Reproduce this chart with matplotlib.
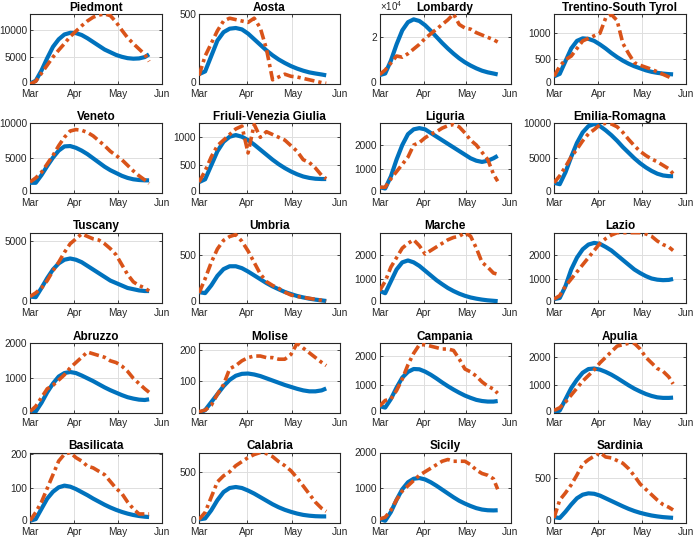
import numpy as np
import matplotlib
matplotlib.use("Agg")
import matplotlib.pyplot as plt
import matplotlib.transforms as mtransforms

plt.rcParams['font.family'] = ['Liberation Sans', 'DejaVu Sans']
plt.rcParams['mathtext.fontset'] = 'custom'
plt.rcParams['mathtext.rm'] = 'Liberation Sans'

# day offsets from 1 March
days = [0, 4, 8, 12, 16, 20, 24, 28, 32, 36, 40, 44, 48, 52, 56, 60, 64, 68, 72, 76, 80, 83]

month_ticks = [0, 31, 61, 92]
month_labels = ['Mar', 'Apr', 'May', 'Jun']

regions = ['Piedmont', 'Aosta', 'Lombardy', 'Trentino-South Tyrol',
           'Veneto', 'Friuli-Venezia Giulia', 'Liguria', 'Emilia-Romagna',
           'Tuscany', 'Umbria', 'Marche', 'Lazio',
           'Abruzzo', 'Molise', 'Campania', 'Apulia',
           'Basilicata', 'Calabria', 'Sicily', 'Sardinia']

piedmont_model = [100, 600, 2500, 4800, 6900, 8300, 9200, 9500, 9450, 9100, 8500, 7800, 7100, 6400, 5900, 5400, 5050, 4800, 4700, 4750, 5000, 5500]
piedmont_obs = [0, 500, 2000, 3500, 5000, 6300, 7500, 8800, 9800, 10800, 11700, 12400, 12800, 13000, 12700, 11500, 10000, 8600, 7500, 6500, 5500, 4200]
aosta_model = [70, 90, 200, 310, 370, 395, 400, 390, 360, 320, 280, 240, 205, 175, 150, 128, 110, 95, 83, 75, 68, 62]
aosta_obs = [60, 200, 290, 380, 450, 470, 460, 450, 440, 470, 400, 250, 30, 50, 70, 55, 50, 40, 30, 20, 10, 5]
lombardy_model = [3800, 4500, 10000, 17000, 23000, 26500, 27700, 27000, 25200, 22800, 20200, 17600, 15200, 13000, 11000, 9300, 7900, 6700, 5700, 5000, 4500, 4100]
lombardy_obs = [4000, 6000, 9000, 12000, 11500, 13000, 15000, 17000, 19500, 21500, 23500, 25500, 27500, 30000, 25500, 24000, 23500, 22000, 21000, 20000, 19000, 18000]
trentino_model = [150, 200, 450, 700, 850, 900, 890, 850, 780, 700, 610, 530, 460, 400, 350, 310, 270, 240, 220, 205, 195, 190]
trentino_obs = [150, 350, 480, 550, 700, 850, 900, 950, 1000, 1300, 1370, 1250, 800, 600, 420, 370, 330, 290, 240, 190, 140, 100]
veneto_model = [1500, 1500, 2600, 3900, 5100, 6100, 6700, 6750, 6500, 6100, 5600, 5000, 4400, 3800, 3300, 2900, 2500, 2200, 2000, 1900, 1850, 1850]
veneto_obs = [1600, 2200, 3000, 4200, 5400, 6800, 8000, 8900, 9100, 9000, 8700, 8200, 7500, 6800, 6000, 5400, 4800, 4000, 3200, 2500, 1900, 1400]
friuli_model = [200, 250, 500, 750, 920, 1010, 1040, 1010, 950, 870, 780, 690, 600, 520, 450, 390, 340, 300, 275, 260, 255, 255]
friuli_obs = [200, 400, 650, 850, 950, 1050, 1150, 1200, 720, 1230, 1000, 1100, 1050, 1000, 950, 850, 750, 600, 550, 450, 320, 260]
liguria_model = [250, 200, 700, 1400, 2000, 2450, 2650, 2700, 2650, 2500, 2350, 2200, 2050, 1900, 1750, 1600, 1450, 1350, 1300, 1350, 1450, 1550]
liguria_obs = [250, 250, 600, 900, 1200, 1500, 2000, 2100, 2300, 2450, 2550, 2700, 2800, 2850, 2750, 2500, 2200, 2000, 1700, 1400, 800, 500]
emilia_model = [1500, 1300, 3000, 5200, 7200, 8700, 9600, 9900, 9600, 9000, 8300, 7500, 6600, 5800, 5000, 4300, 3700, 3200, 2800, 2550, 2450, 2450]
emilia_obs = [1500, 2500, 3800, 5200, 6300, 7500, 8500, 9100, 9800, 10000, 9900, 9500, 8700, 7700, 6800, 6000, 5400, 4900, 4500, 4000, 3500, 2800]
tuscany_model = [500, 450, 1200, 2000, 2700, 3200, 3500, 3600, 3500, 3300, 3000, 2700, 2400, 2100, 1800, 1600, 1400, 1200, 1100, 1000, 950, 950]
tuscany_obs = [500, 800, 1200, 1800, 2600, 3300, 4100, 4800, 5200, 5600, 5400, 5200, 5100, 4800, 4400, 3900, 3100, 2300, 1700, 1400, 1200, 950]
umbria_model = [110, 100, 180, 280, 350, 380, 380, 360, 325, 285, 245, 205, 170, 140, 112, 90, 70, 55, 42, 32, 24, 18]
umbria_obs = [100, 250, 420, 560, 650, 690, 710, 640, 540, 420, 300, 220, 180, 150, 110, 80, 65, 55, 45, 35, 25, 15]
marche_model = [500, 400, 900, 1400, 1700, 1780, 1700, 1550, 1350, 1150, 950, 780, 620, 490, 380, 290, 220, 170, 130, 100, 80, 65]
marche_obs = [500, 900, 1500, 1900, 2300, 2500, 2650, 2400, 2050, 2200, 2350, 2500, 2650, 2750, 2800, 2950, 2800, 2300, 1700, 1500, 1250, 1200]
lazio_model = [150, 200, 700, 1400, 1900, 2250, 2450, 2520, 2480, 2350, 2200, 2000, 1800, 1600, 1400, 1250, 1120, 1020, 970, 950, 960, 1000]
lazio_obs = [150, 300, 700, 1000, 1300, 1600, 1900, 2200, 2500, 2700, 2850, 2950, 2950, 2950, 2950, 2950, 2900, 2800, 2600, 2450, 2350, 2200]
abruzzo_model = [50, 50, 300, 600, 850, 1050, 1150, 1180, 1150, 1080, 1000, 920, 830, 740, 660, 590, 520, 460, 420, 390, 380, 400]
abruzzo_obs = [50, 200, 450, 700, 800, 950, 1100, 1300, 1450, 1600, 1750, 1700, 1650, 1600, 1500, 1450, 1350, 1200, 1000, 850, 700, 600]
molise_model = [0, 10, 35, 60, 85, 105, 118, 124, 125, 122, 117, 110, 103, 96, 89, 83, 77, 72, 69, 69, 72, 78]
molise_obs = [5, 10, 25, 60, 90, 140, 150, 165, 175, 180, 180, 175, 175, 170, 170, 185, 220, 205, 190, 175, 160, 150]
campania_model = [250, 200, 500, 900, 1250, 1450, 1550, 1540, 1460, 1350, 1220, 1080, 950, 830, 720, 620, 540, 470, 430, 410, 410, 430]
campania_obs = [250, 450, 500, 800, 1200, 1700, 2100, 2400, 2400, 2350, 2300, 2250, 2250, 2200, 1900, 1550, 1450, 1300, 1100, 950, 850, 700]
apulia_model = [0, 100, 500, 900, 1200, 1450, 1580, 1600, 1560, 1480, 1380, 1260, 1130, 1000, 880, 780, 690, 620, 570, 550, 550, 560]
apulia_obs = [100, 200, 400, 650, 900, 1150, 1350, 1550, 1800, 2000, 2200, 2400, 2450, 2500, 2500, 2300, 2000, 1800, 1600, 1500, 1300, 1050]
basilicata_model = [5, 10, 40, 70, 90, 103, 108, 105, 98, 89, 80, 70, 61, 52, 44, 37, 31, 26, 22, 19, 17, 16]
basilicata_obs = [5, 30, 60, 100, 140, 180, 200, 205, 190, 180, 165, 160, 150, 140, 120, 100, 85, 60, 40, 25, 25, 25]
calabria_model = [30, 40, 120, 220, 300, 340, 350, 340, 315, 285, 250, 215, 180, 150, 125, 105, 88, 75, 67, 62, 60, 60]
calabria_obs = [30, 100, 250, 400, 460, 500, 560, 600, 640, 670, 690, 680, 650, 600, 560, 510, 440, 360, 280, 200, 140, 110]
sicily_model = [100, 50, 300, 650, 950, 1150, 1250, 1270, 1230, 1150, 1050, 940, 830, 720, 620, 540, 470, 410, 370, 350, 345, 350]
sicily_obs = [100, 150, 350, 650, 900, 1050, 1200, 1350, 1450, 1550, 1650, 1750, 1800, 1750, 1750, 1750, 1650, 1500, 1400, 1350, 1250, 950]
sardinia_model = [60, 50, 120, 200, 270, 310, 325, 320, 300, 270, 240, 210, 180, 152, 128, 108, 92, 78, 68, 60, 55, 52]
sardinia_obs = [50, 250, 330, 420, 530, 650, 700, 740, 780, 730, 720, 690, 660, 600, 520, 430, 370, 310, 250, 200, 170, 140]

model_series = [piedmont_model, aosta_model, lombardy_model, trentino_model,
                veneto_model, friuli_model, liguria_model, emilia_model,
                tuscany_model, umbria_model, marche_model, lazio_model,
                abruzzo_model, molise_model, campania_model, apulia_model,
                basilicata_model, calabria_model, sicily_model, sardinia_model]
obs_series = [piedmont_obs, aosta_obs, lombardy_obs, trentino_obs,
              veneto_obs, friuli_obs, liguria_obs, emilia_obs,
              tuscany_obs, umbria_obs, marche_obs, lazio_obs,
              abruzzo_obs, molise_obs, campania_obs, apulia_obs,
              basilicata_obs, calabria_obs, sicily_obs, sardinia_obs]

y_top = [13000, 500, 30000, 1380, 10000, 1250, 2900, 10000, 5700, 730,
         2950, 2950, 2000, 220, 2450, 2500, 205, 690, 2000, 780]
y_step = [5000, 500, 20000, 500, 5000, 500, 1000, 5000, 5000, 500,
          1000, 1000, 1000, 100, 1000, 1000, 100, 500, 1000, 500]

BLUE = '#0072BD'
ORANGE = '#D95319'
AX_COL = '#262626'

W, H = 693, 538
col_left = [30, 199, 379.5, 554]
col_width = [132, 141, 131, 132]
row_top = [14, 123.3, 232.7, 343.3, 452.5]
ax_h = 70

fig = plt.figure(figsize=(W / 100, H / 100), dpi=100)
lift = mtransforms.ScaledTranslation(0, 2.0 / 100, fig.dpi_scale_trans)

for i, name in enumerate(regions):
    r, c = divmod(i, 4)
    left = col_left[c] / W
    bottom = 1 - (row_top[r] + ax_h) / H
    ax = fig.add_axes([left, bottom, col_width[c] / W, ax_h / H])
    ax.plot(days, model_series[i], color=BLUE, lw=3.0, solid_capstyle='butt', zorder=3)
    ln, = ax.plot(days, obs_series[i], color=ORANGE, lw=2.6, zorder=4)
    ln.set_dashes([2.8, 1.1, 0.9, 1.1])
    ax.set_xlim(0, 92)
    ax.set_ylim(0, y_top[i])
    ax.set_xticks(month_ticks)
    ax.set_xticklabels(month_labels)
    yt = np.arange(0, y_top[i] + 1, y_step[i])
    ax.set_yticks(yt)
    if name == 'Lombardy':
        ax.set_yticklabels([f'{v / 10000:g}' for v in yt])
        ax.text(0.0, 1.015, r'$\times\mathregular{10^4}$', transform=ax.transAxes,
                ha='left', va='bottom', fontsize=7, color=AX_COL)
    else:
        ax.set_yticklabels([f'{v:g}' for v in yt])
    ax.grid(True, color='#dedede', lw=0.7, zorder=0)
    ax.set_axisbelow(True)
    for sp in ax.spines.values():
        sp.set_color(AX_COL)
        sp.set_linewidth(0.8)
    ax.tick_params(direction='in', length=2.5, width=0.6, colors=AX_COL,
                   labelsize=7.3, top=True, right=True, pad=2)
    ax.tick_params(axis='x', pad=3.5)
    ylabs = ax.get_yticklabels()
    ylabs[0].set_transform(ylabs[0].get_transform() + lift)
    ax.set_title(name, fontsize=8.5, fontweight='bold', color='black', pad=2.5)

fig.savefig('out.png', dpi=100)
